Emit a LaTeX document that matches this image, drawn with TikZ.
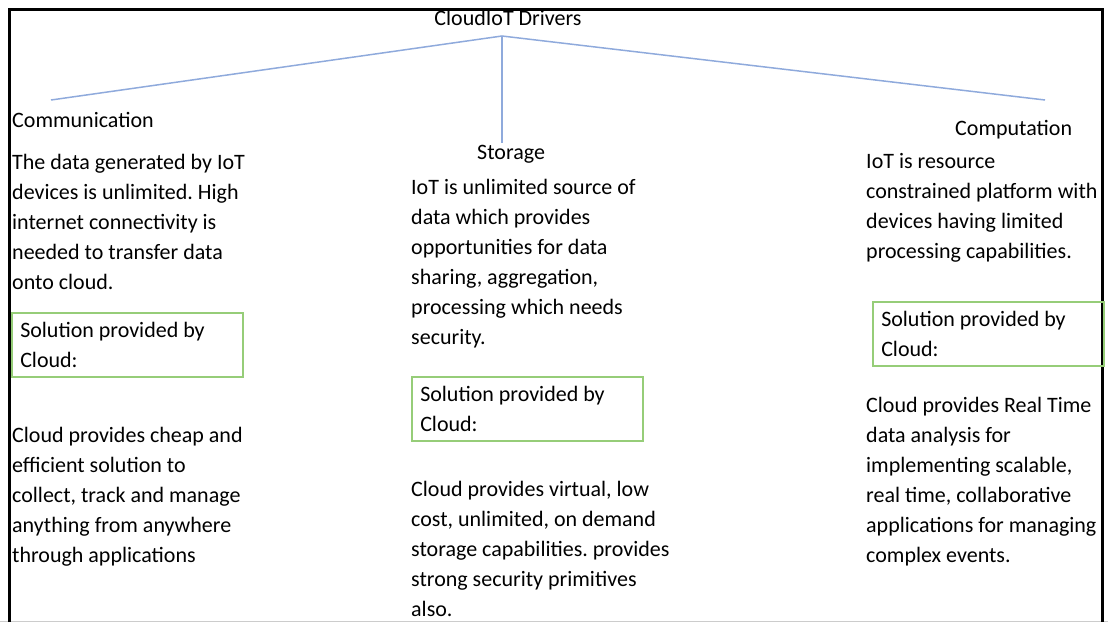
\documentclass[tikz,border=0pt]{standalone}
\usepackage{fontspec}
\setmainfont{Carlito}
\usetikzlibrary{positioning}
\definecolor{linkblue}{RGB}{143,170,220}
\definecolor{boxgreen}{RGB}{150,205,120}
\frenchspacing

\begin{document}
\begin{tikzpicture}[x=1pt,y=-1pt,
  txt/.style={anchor=base west, inner sep=0pt, align=left,
    font=\fontsize{22}{30}\selectfont},
  solbox/.style={draw=boxgreen, line width=1.5pt, anchor=north west,
    align=flush left, inner xsep=8.5pt, inner ysep=0pt, text width=214pt,
    minimum width=231pt, minimum height=64pt,
    font=\fontsize{22}{30}\selectfont},
  branch/.style={draw=linkblue, line width=1.5pt}]
\useasboundingbox (0,0) rectangle (1108,622);
% frame
\draw[black!20, line width=1pt] (0,621.5) -- (1108,621.5);
\draw[line width=3pt] (9,622) -- (9,9) -- (1102,9) -- (1102,622);
% root and branches (base anchor = last line)
\node[txt, anchor=base] (root) at (508,25) {CloudIoT Drivers};
\coordinate (hub) at (502,36);
\coordinate (commend) at (51,100);
\coordinate (storend) at (502,143);
\coordinate (compend) at (1045,100);
\draw[branch] (commend) -- (hub) -- (compend);
\draw[branch] (hub) -- (storend);
% communication
\node[txt] (comm) at (12,127) {Communication};
\node[txt] (commtxt) at (12,289) {The data generated by IoT\\devices is unlimited. High\\internet connectivity is\\needed to transfer data\\onto cloud.};
\node[solbox] (commsol) at (11,312) {Solution provided by\\Cloud:};
\node[txt] (commans) at (12,562) {Cloud provides cheap and\\efficient solution to\\collect, track and manage\\anything from anywhere\\through applications};
% storage
\node[txt] (stor) at (477,159) {Storage};
\node[txt] (stortxt) at (411,344) {IoT is unlimited source of\\data which provides\\opportunities for data\\sharing, aggregation,\\processing which needs\\security.};
\node[solbox] (storsol) at (411,376) {Solution provided by\\Cloud:};
\node[txt] (storans) at (411,616) {Cloud provides virtual, low\\cost, unlimited, on demand\\storage capabilities. provides\\strong security primitives\\also.};
% computation
\node[txt] (comp) at (955,135) {Computation};
\node[txt] (comptxt) at (866,258) {IoT is resource\\constrained platform with\\devices having limited\\processing capabilities.};
\node[solbox] (compsol) at (872,301) {Solution provided by\\Cloud:};
\node[txt] (compans) at (866,562) {Cloud provides Real Time\\data analysis for\\implementing scalable,\\real time, collaborative\\applications for managing\\complex events.};
\end{tikzpicture}
\end{document}
